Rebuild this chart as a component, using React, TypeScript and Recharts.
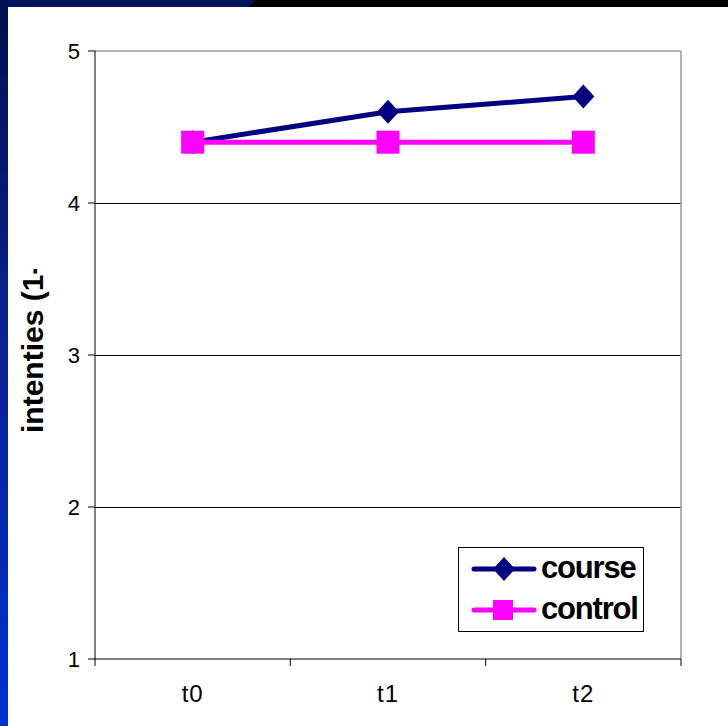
import React from "react";
import { LineChart, Line, XAxis, YAxis, CartesianGrid, ReferenceLine } from "recharts";

const categories = ["t0", "t1", "t2"];
const course = [4.4, 4.6, 4.7];
const control = [4.4, 4.4, 4.4];
const yTicks = [1, 2, 3, 4, 5];
const gridValues = [2, 3, 4];
const seriesNames = ["course", "control"];

const NAVY = "#000080";
const MAGENTA = "#ff00ff";
const FONT = "'Liberation Sans', Arial, Helvetica, sans-serif";

const rows = categories.map((c, i) => ({ x: i + 0.5, name: c, course: course[i], control: control[i] }));

const Diamond = (props: any) => {
  const { cx, cy } = props;
  if (cx == null || cy == null) return <g />;
  const r = 12;
  return <path d={`M${cx},${cy - r}L${cx + r - 1},${cy}L${cx},${cy + r}L${cx - r + 1},${cy}Z`} fill={NAVY} />;
};

const Square = (props: any) => {
  const { cx, cy } = props;
  if (cx == null || cy == null) return <g />;
  const r = 11.5;
  return <rect x={cx - r} y={cy - r} width={r * 2} height={r * 2} fill={MAGENTA} />;
};

// the original title is cut off above "(1-"
const AxisTitle = () => (
  <svg width={90} height={726} style={{ position: "absolute", left: 0, top: 0 }}>
    <defs>
      <clipPath id="titleClip">
        <rect x={0} y={269} width={90} height={300} />
      </clipPath>
    </defs>
    <g clipPath="url(#titleClip)">
      <text
        transform="translate(43,433) rotate(-90)"
        textAnchor="start"
        style={{ fontFamily: FONT, fontWeight: "bold", fontSize: 30, fill: "#000" }}
      >
        intenties (1-5)
      </text>
    </g>
  </svg>
);

const LegendBox = () => (
  <div
    style={{
      position: "absolute",
      left: 458,
      top: 547,
      width: 184,
      height: 83,
      border: "1px solid #000",
      background: "#fff",
      fontFamily: FONT,
    }}
  >
    {seriesNames.map((name, i) => {
      const top = i === 0 ? 21 : 62;
      const color = name === "course" ? NAVY : MAGENTA;
      return (
        <div key={name}>
          <svg width={66} height={26} style={{ position: "absolute", left: 12, top: top - 13 }}>
            <line x1={3} y1={13} x2={63} y2={13} stroke={color} strokeWidth={5} strokeLinecap="round" />
            {name === "course" ? (
              <path d="M33,1L44,13L33,25L22,13Z" fill={color} />
            ) : (
              <rect x={22} y={3} width={20} height={20} fill={color} />
            )}
          </svg>
          <span
            style={{
              position: "absolute",
              left: 82,
              top: top - 19,
              fontSize: 31,
              fontWeight: "bold",
              letterSpacing: -1.2,
              lineHeight: "36px",
              color: "#000",
            }}
          >
            {name}
          </span>
        </div>
      );
    })}
  </div>
);

export default function App() {
  return (
    <div style={{ position: "absolute", left: 0, top: 0, width: 728, height: 726, background: "#000", overflow: "hidden" }}>
      <div
        style={{
          position: "absolute",
          left: 0,
          top: 0,
          width: 256,
          height: 7,
          background: "#001660",
          clipPath: "polygon(0 0, 100% 0, 97% 100%, 0 100%)",
        }}
      />
      <div
        style={{
          position: "absolute",
          left: 0,
          top: 0,
          width: 8,
          height: 726,
          background: "linear-gradient(180deg, #001050 0%, #0a2090 45%, #0030d0 100%)",
        }}
      />
      <div style={{ position: "absolute", left: 8, top: 7, width: 720, height: 719, background: "#fff" }} />
      <div style={{ position: "absolute", left: 0, top: 0 }}>
        <LineChart width={728} height={726} data={rows} margin={{ top: 51, right: 47, bottom: 0, left: 0 }}>
          <CartesianGrid
            horizontal
            vertical={false}
            horizontalValues={gridValues}
            stroke="#000"
            strokeWidth={1}
            shapeRendering="crispEdges"
          />
          <XAxis
            xAxisId="edges"
            dataKey="x"
            type="number"
            domain={[0, 3]}
            ticks={[0, 1, 2, 3]}
            tickFormatter={() => ""}
            tickSize={7}
            height={8}
            axisLine={{ stroke: "#000" }}
            tickLine={{ stroke: "#000" }}
          />
          <XAxis
            xAxisId="labels"
            dataKey="x"
            type="number"
            domain={[0, 3]}
            ticks={rows.map((r) => r.x)}
            tickFormatter={(v: number) => categories[Math.floor(v)]}
            axisLine={false}
            tickLine={false}
            tickMargin={12}
            height={59}
            tick={{ fill: "#000", fontSize: 24, fontFamily: FONT, letterSpacing: 1 }}
          />
          <YAxis
            type="number"
            domain={[1, 5]}
            ticks={yTicks}
            width={95}
            tickSize={7}
            tickMargin={7}
            axisLine={{ stroke: "#000" }}
            tickLine={{ stroke: "#000" }}
            tick={{ fill: "#000", fontSize: 22, fontFamily: FONT, letterSpacing: 1 }}
          />
          <ReferenceLine xAxisId="edges" y={5} stroke="#999" strokeWidth={1.5} />
          <ReferenceLine xAxisId="edges" x={3} stroke="#999" strokeWidth={1.5} />
          <Line
            xAxisId="edges"
            dataKey="course"
            name="course"
            stroke={NAVY}
            strokeWidth={5}
            dot={<Diamond />}
            activeDot={false}
            isAnimationActive={false}
          />
          <Line
            xAxisId="edges"
            dataKey="control"
            name="control"
            stroke={MAGENTA}
            strokeWidth={5}
            dot={<Square />}
            activeDot={false}
            isAnimationActive={false}
          />
        </LineChart>
      </div>
      <AxisTitle />
      <LegendBox />
    </div>
  );
}
